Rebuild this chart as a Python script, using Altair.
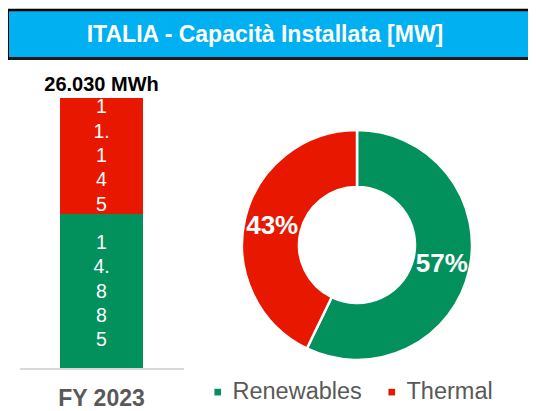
import re
import altair as alt
import pandas as pd

# ---- data ----
title_text = "ITALIA - Capacità Installata [MW]"
period = "FY 2023"
sources = ["Renewables", "Thermal"]
capacity_mw = [14885, 11145]
colors = ["#02915D", "#E81700"]
unit = "MWh"

FONT = "Liberation Sans, Arial, sans-serif"
LINE_H = 24.3

def it_fmt(v):
    return f"{v:,}".replace(",", ".")

total = sum(capacity_mw)
df = pd.DataFrame({
    "period": [period] * len(sources),
    "source": sources,
    "value": capacity_mw,
    "order": list(range(len(sources))),
})
df["label"] = ["\n".join(re.findall(r"\d\.?", it_fmt(v))) for v in capacity_mw]
df["pct"] = [f"{round(v / total * 100)}%" for v in capacity_mw]

tot_df = pd.DataFrame({"period": [period], "total": [total],
                       "tlabel": [f"{it_fmt(total)} {unit}"]})
title_df = pd.DataFrame({"t": [title_text]})

color = alt.Color("source:N",
                  scale=alt.Scale(domain=sources, range=colors),
                  legend=alt.Legend(orient="none", legendX=198, legendY=372,
                                    direction="horizontal", title=None,
                                    symbolType="square", symbolSize=44,
                                    symbolStrokeWidth=0,
                                    labelFont=FONT, labelFontSize=23.5,
                                    labelColor="#595959", labelOffset=3,
                                    columnPadding=18, padding=0))

xs = alt.X("period:N", scale=alt.Scale(range=[52, 135], paddingInner=0, paddingOuter=0),
           axis=None)
ysc = alt.Scale(domain=[0, total], range=[361, 90])

base = alt.Chart(df)

bars = base.mark_bar(size=83).encode(
    x=xs,
    y=alt.Y("value:Q", stack="zero", scale=ysc, axis=None),
    color=color,
    order=alt.Order("order:Q"),
)

bar_text = base.transform_stack(
    stack="value", groupby=["period"], as_=["y0", "y1"],
    sort=[alt.SortField("order")]
).transform_calculate(
    mid="(datum.y0 + datum.y1) / 2"
).mark_text(color="white", font=FONT, fontSize=19.5, lineBreak="\n",
            lineHeight=LINE_H, baseline="middle", align="center",
            dy=-2 * LINE_H).encode(
    x=xs,
    y=alt.Y("mid:Q", scale=ysc, axis=None),
    text="label:N",
)

total_text = alt.Chart(tot_df).mark_text(font=FONT, fontSize=20, fontWeight="bold",
                                          color="#000000", baseline="bottom", dy=-3).encode(
    x=xs,
    y=alt.Y("total:Q", scale=ysc, axis=None),
    text="tlabel:N",
)

period_text = alt.Chart(tot_df).mark_text(font=FONT, fontSize=23, fontWeight="bold",
                                           color="#595959", baseline="middle").encode(
    x=xs,
    y=alt.value(391),
    text="period:N",
)

baseline_rule = alt.Chart(tot_df).mark_rule(color="#D9D9D9", strokeWidth=2).encode(
    x=alt.value(12), x2=alt.value(176), y=alt.value(361),
)

donut = base.mark_arc(innerRadius=58, outerRadius=115, stroke="white",
                      strokeWidth=2.5).encode(
    theta=alt.Theta("value:Q", stack=True),
    color=color,
    order=alt.Order("order:Q"),
    x=alt.value(349), y=alt.value(237),
)

donut_text = base.mark_text(radius=87, font=FONT, fontSize=26, fontWeight="bold",
                            color="white", baseline="middle", align="center").encode(
    theta=alt.Theta("value:Q", stack=True),
    order=alt.Order("order:Q"),
    text="pct:N",
    x=alt.value(349), y=alt.value(237),
)

title_box = alt.Chart(title_df).mark_rect(fill="#00B0F0").encode(
    x=alt.value(0), x2=alt.value(700), y=alt.value(2), y2=alt.value(50),
)
title_top = alt.Chart(title_df).mark_rule(color="#000000", strokeWidth=2.5).encode(
    x=alt.value(0), x2=alt.value(700), y=alt.value(2),
)
title_bottom = alt.Chart(title_df).mark_rule(color="#1a1a1a", strokeWidth=3).encode(
    x=alt.value(0), x2=alt.value(700), y=alt.value(50.5),
)
title_left = alt.Chart(title_df).mark_rule(color="#000000", strokeWidth=2).encode(
    x=alt.value(0), y=alt.value(1), y2=alt.value(52),
)
title_label = alt.Chart(title_df).mark_text(font=FONT, fontSize=23, fontWeight="bold",
                                            color="white", baseline="middle",
                                            align="center").encode(
    x=alt.value(257), y=alt.value(27), text="t:N",
)

chart = alt.layer(
    title_box, title_top, title_bottom, title_left, title_label,
    bars, bar_text, baseline_rule, total_text, period_text,
    donut, donut_text,
).properties(
    width=520, height=403, padding=0,
    autosize=alt.AutoSizeParams(type="none"),
).configure_view(stroke=None)

chart.save("out.html", embed_options={"renderer": "svg", "actions": False})
